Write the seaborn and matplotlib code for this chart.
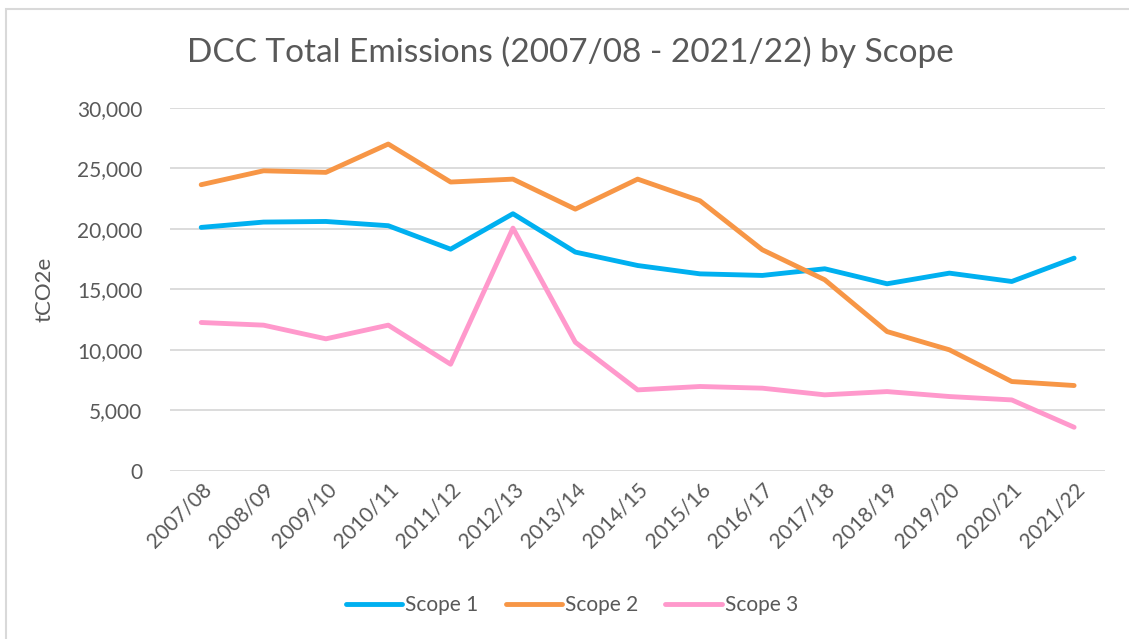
import pandas as pd
import seaborn as sns
import matplotlib.pyplot as plt
from matplotlib.patches import Rectangle

sns.set_theme(style='whitegrid')
plt.rcParams['font.family'] = ['Lato', 'DejaVu Sans']

# Data
years = ['2007/08', '2008/09', '2009/10', '2010/11', '2011/12', '2012/13', '2013/14',
         '2014/15', '2015/16', '2016/17', '2017/18', '2018/19', '2019/20', '2020/21', '2021/22']
scope1 = [20130, 20570, 20620, 20270, 18330, 21260, 18090, 16980, 16290, 16160,
          16710, 15470, 16350, 15660, 17590]
scope2 = [23660, 24810, 24680, 27020, 23880, 24120, 21640, 24120, 22330, 18280,
          15800, 11520, 10010, 7390, 7060]
scope3 = [12270, 12050, 10920, 12050, 8820, 20070, 10640, 6700, 6980, 6840,
          6290, 6560, 6150, 5870, 3610]

df = pd.DataFrame({'Year': years, 'Scope 1': scope1, 'Scope 2': scope2, 'Scope 3': scope3})
long_df = df.melt(id_vars='Year', var_name='Scope', value_name='tCO2e')

palette = {'Scope 1': '#00B0F0', 'Scope 2': '#F79646', 'Scope 3': '#FF99CC'}
text_col = '#595959'

fig = plt.figure(figsize=(11.29, 6.39), dpi=100)
ax = fig.add_axes([0.1506, 0.263, 0.8284, 0.568])

sns.lineplot(data=long_df, x='Year', y='tCO2e', hue='Scope', palette=palette,
             linewidth=3.5, sort=False, ax=ax, legend=True)
for line in ax.lines:
    line.set_solid_capstyle('round')
    line.set_solid_joinstyle('round')

ax.set_xlim(-0.5, len(years) - 0.5)
ax.set_ylim(0, 30000)
ax.set_yticks(range(0, 30001, 5000))
ax.yaxis.set_major_formatter(plt.FuncFormatter(lambda v, p: f'{int(v):,}'))
ax.grid(axis='y', color='#D9D9D9', linewidth=1.3)
ax.grid(axis='x', visible=False)
for s in ax.spines.values():
    s.set_visible(False)
ax.tick_params(axis='both', length=0, colors=text_col, labelsize=15)
ax.tick_params(axis='y', pad=20)
ax.tick_params(axis='x', pad=6)
plt.setp(ax.get_xticklabels(), rotation=45, ha='right', rotation_mode='anchor')
ax.set_xlabel('')
ax.set_ylabel('tCO2e', color=text_col, fontsize=16, labelpad=16)

fig.suptitle('DCC Total Emissions (2007/08 - 2021/22) by Scope', color=text_col,
             fontsize=24, x=570 / 1129, y=1 - 52 / 639, va='center')

handles, labels = ax.get_legend_handles_labels()
ax.get_legend().remove()
fig.legend(handles, labels, loc='center', bbox_to_anchor=(572 / 1129, 1 - 605 / 639), ncol=3,
           frameon=False, fontsize=15, labelcolor=text_col, handlelength=2.7,
           handletextpad=0.15, columnspacing=1.3)

fig.patches.append(Rectangle((6 / 1129, -0.1), 1.2, 1 - 9 / 639 + 0.1,
                             transform=fig.transFigure, fill=False,
                             edgecolor='#D9D9D9', linewidth=1.5))

fig.savefig('out.png', dpi=100)
